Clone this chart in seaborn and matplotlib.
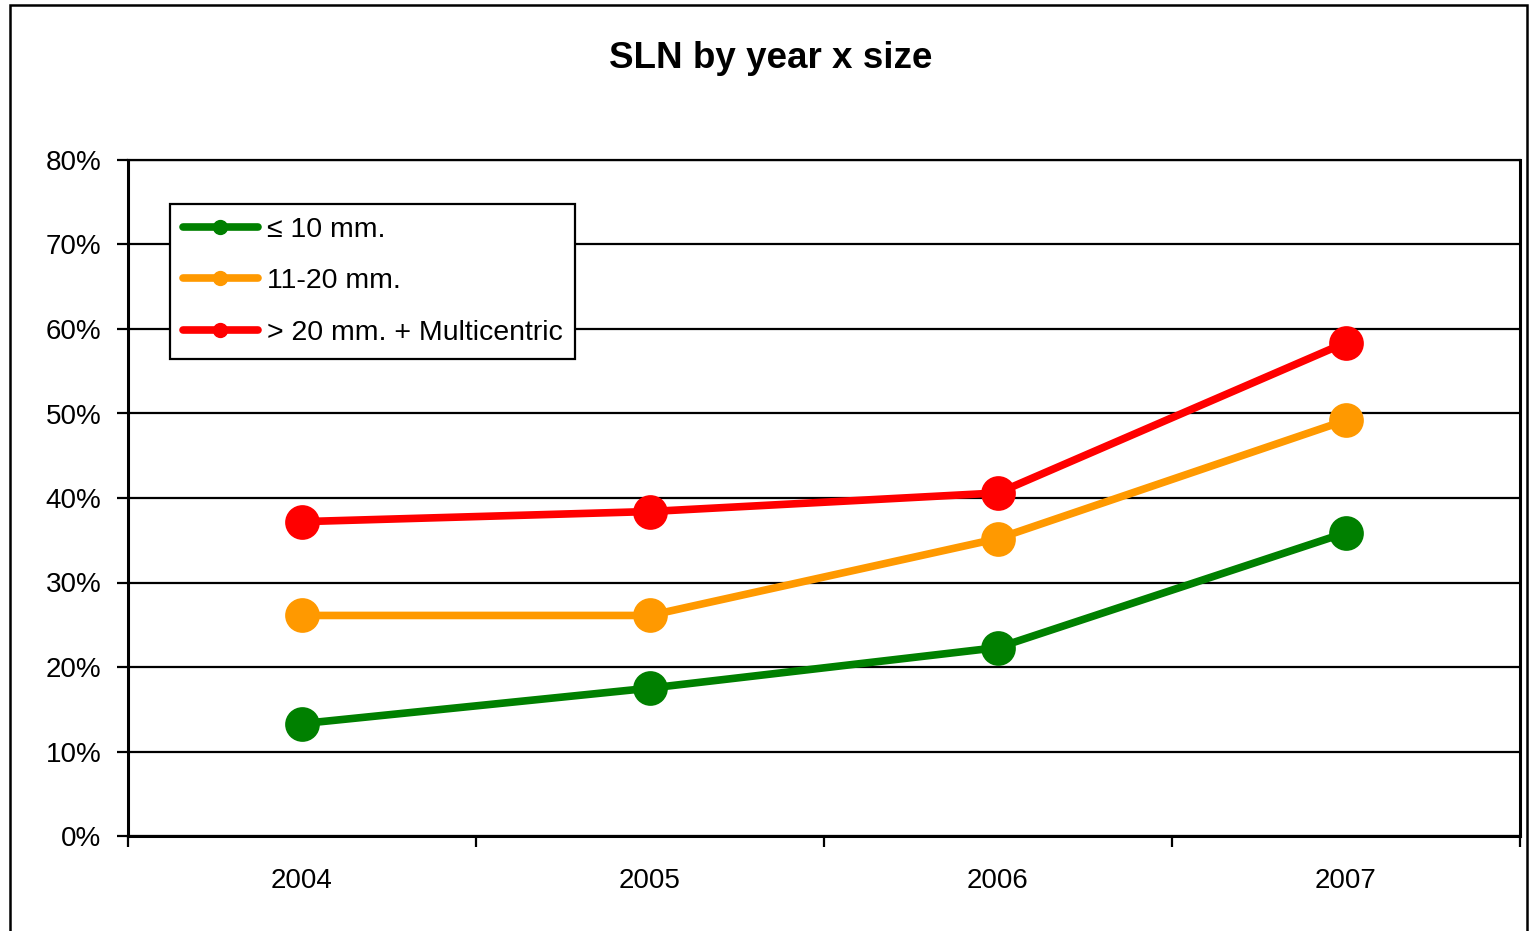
import pandas as pd
import numpy as np
import seaborn as sns
import matplotlib.pyplot as plt
from matplotlib.lines import Line2D
from matplotlib.patches import Rectangle
from matplotlib.ticker import FixedLocator, PercentFormatter

years = ["2004", "2005", "2006", "2007"]
series_names = ["≤ 10 mm.", "11-20 mm.", "> 20 mm. + Multicentric"]
small = [13.3, 17.5, 22.3, 35.9]
medium = [26.1, 26.1, 35.2, 49.2]
large = [37.2, 38.4, 40.6, 58.4]
colors = ["#008000", "#FF9900", "#FF0000"]

sns.set_theme(style="white")
plt.rcParams['font.family'] = ['Liberation Sans', 'DejaVu Sans']
plt.rcParams['text.color'] = 'black'
plt.rcParams['xtick.color'] = 'black'
plt.rcParams['ytick.color'] = 'black'
plt.rcParams['axes.labelcolor'] = 'black'

df = pd.DataFrame({
    "pos": list(range(len(years))) * 3,
    "value": small + medium + large,
    "series": [s for s in series_names for _ in years],
})

fig = plt.figure(figsize=(15.3, 9.31), dpi=100)
ax = fig.add_axes([128 / 1530, 95 / 931, (1520 - 128) / 1530, (836 - 160) / 931])

sns.lineplot(data=df, x="pos", y="value", hue="series", hue_order=series_names,
             palette=colors, marker="o", markersize=25, markeredgewidth=0,
             linewidth=5.5, legend=False, ax=ax, zorder=3)

ax.set_xlim(-0.5, 3.5)
ax.set_ylim(0, 80)
ax.set_yticks(np.arange(0, 81, 10))
ax.yaxis.set_major_formatter(PercentFormatter(decimals=0))
ax.grid(axis="y", color="black", linewidth=1.6)
ax.set_axisbelow(True)

# tick marks on category borders, labels at centres
ax.xaxis.set_major_locator(FixedLocator(np.arange(-0.5, 3.6, 1)))
ax.xaxis.set_minor_locator(FixedLocator(np.arange(0, 4)))
ax.set_xticklabels([])
ax.set_xticklabels(years, minor=True)
ax.tick_params(axis="x", which="major", direction="out", length=8, width=1.6, bottom=True)
ax.tick_params(axis="x", which="minor", length=0, pad=23, labelsize=20)
ax.tick_params(axis="y", direction="out", length=8, width=1.6, left=True, labelsize=20, pad=11)

for side in ["left", "bottom", "right", "top"]:
    ax.spines[side].set_visible(True)
    ax.spines[side].set_color("black")
ax.spines["left"].set_linewidth(2.2)
ax.spines["bottom"].set_linewidth(2.2)
ax.spines["right"].set_linewidth(2.2)
ax.spines["top"].set_linewidth(1.6)
ax.set_xlabel("")
ax.set_ylabel("")

handles = [Line2D([0], [0], color=c, linewidth=5.5, marker="o", markersize=10) for c in colors]
leg = ax.legend(handles, series_names, loc="upper left", bbox_to_anchor=(0.030, 0.935),
                fontsize=20.5, frameon=True, fancybox=False, edgecolor="black",
                handlelength=2.65, handletextpad=0.3, labelspacing=0.9, borderpad=0.45,
                borderaxespad=0, framealpha=1)
leg.get_frame().set_linewidth(1.6)

fig.text(771 / 1530, 1 - 58 / 931, "SLN by year x size", ha="center", va="center",
         fontsize=26.5, fontweight="bold")

fig.patches.append(Rectangle((10 / 1530, -0.01), (1527 - 10) / 1530, 1 - 5 / 931 + 0.01,
                             transform=fig.transFigure, fill=False, edgecolor="black",
                             linewidth=1.8))

fig.savefig("out.png", dpi=100)
